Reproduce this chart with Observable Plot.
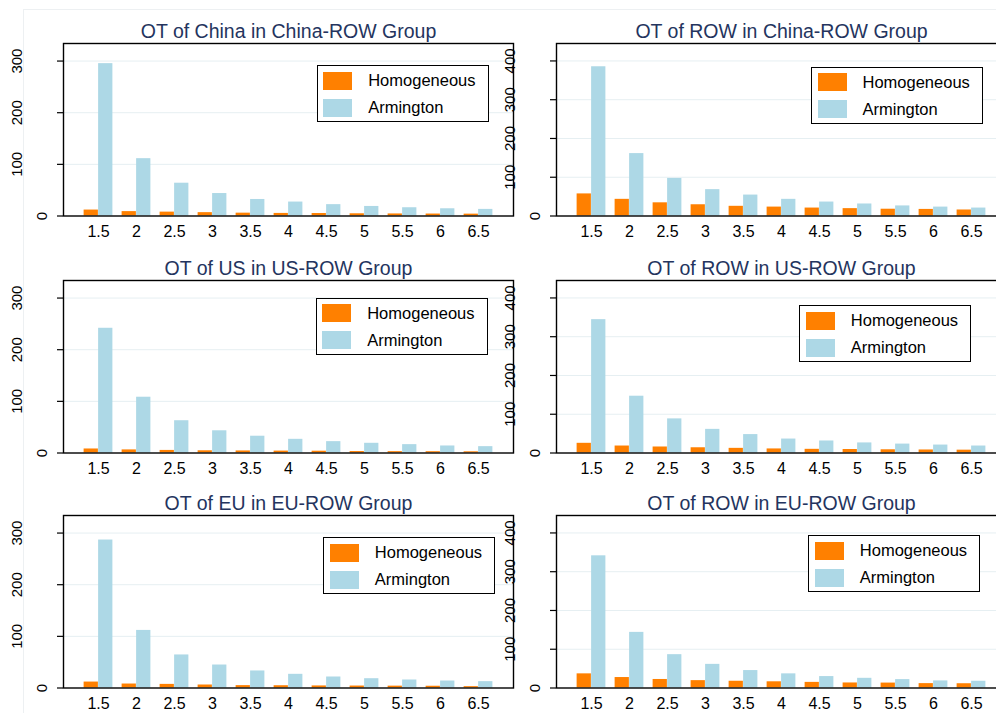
<!DOCTYPE html>
<html>
<head>
<meta charset="utf-8">
<script src="https://cdn.jsdelivr.net/npm/d3@7"></script>
<script src="https://cdn.jsdelivr.net/npm/@observablehq/plot@0.6"></script>
<style>
html, body { margin: 0; padding: 0; background: #fff; }
#chart { position: relative; width: 996px; height: 713px; overflow: hidden; background: #fff; font-family: "Liberation Sans", Arial, sans-serif; }
.panel { position: absolute; }
.legend { position: absolute; box-sizing: border-box; border: 1.3px solid #000; background: #fff; width: 172px; height: 57px; padding: 5.5px 0 0 5.5px; }
.lrow { display: flex; align-items: center; height: 18px; margin-bottom: 9px; }
.sw { width: 29px; height: 18px; margin-right: 16px; flex: none; }
.lt { font-size: 16.5px; color: #000; white-space: nowrap; }
.outline { position: absolute; left: 23px; top: 9px; width: 2000px; height: 2000px; border-left: 1px solid #edf0f2; border-top: 1px solid #edf0f2; }
</style>
</head>
<body>
<div id="chart"><div class="outline"></div></div>
<script>
// ---------- data ----------
const categories = ["1.5", "2", "2.5", "3", "3.5", "4", "4.5", "5", "5.5", "6", "6.5"];
const seriesNames = ["Homogeneous", "Armington"];
const titles = [
  "OT of China in China-ROW Group",
  "OT of ROW in China-ROW Group",
  "OT of US in US-ROW Group",
  "OT of ROW in US-ROW Group",
  "OT of EU in EU-ROW Group",
  "OT of ROW in EU-ROW Group"
];
const leftTicks = [0, 100, 200, 300];
const rightTicks = [0, 100, 200, 300, 400];

const homChina = [11.5, 8.5, 7.5, 6.5, 5.5, 5, 4.8, 4.3, 4, 3.8, 3.6];
const armChina = [295, 111, 63.5, 43.5, 32, 27, 22, 18.5, 16, 14, 12.8];
const homRowChina = [57, 43, 34, 29, 25, 23, 20.5, 19, 17.5, 17, 15.5];
const armRowChina = [385, 161, 97, 68, 54, 43, 36, 31, 26, 23, 20.5];
const homUS = [7.8, 6, 5, 4.3, 4, 3.7, 3.5, 2.8, 2.6, 2.5, 2.3];
const armUS = [241.5, 108, 62.5, 43, 32.5, 26.5, 22, 18.8, 16.2, 13.6, 12.3];
const homRowUS = [25, 18, 15.5, 13.5, 12, 10.5, 9.5, 9, 8.3, 7.8, 7.3];
const armRowUS = [344, 146.5, 88, 61, 47.5, 36, 31, 26, 23, 20.5, 18];
const homEU = [11.5, 7.7, 7, 5.8, 4.6, 4.4, 4, 3.8, 3.6, 3.4, 2.6];
const armEU = [286.5, 111.5, 64, 44.5, 33, 26.5, 21.3, 18, 15.5, 13.5, 12.3];
const homRowEU = [36.5, 27, 22, 19, 17.4, 16, 14.5, 13, 12.7, 11.3, 11];
const armRowEU = [341, 143.5, 86, 61, 45, 36.5, 29.5, 25, 21.7, 18.3, 17.4];

// ---------- styles / layout ----------
const FONT = '"Liberation Sans", Arial, sans-serif';
const ORANGE = "#ff8000";
const BLUE = "#add8e6";
const GRID = "#e6eff2";
const TITLE_C = "#24345e";
const FRAME_W = 450, FRAME_H = 172.5;
const MT = 43, MB = 24, MR = 8;
const PAD_OUTER = 0.386;
const BAR_W = 14.5;

const panels = [
  {title: titles[0], hom: homChina, arm: armChina, ticks: leftTicks, ymax: 334, left: 0, ml: 63, frameTop: 43.3, legend: [316.7, 65]},
  {title: titles[1], hom: homRowChina, arm: armRowChina, ticks: rightTicks, ymax: 445, left: 496, ml: 60, frameTop: 43.3, legend: [811, 66.7]},
  {title: titles[2], hom: homUS, arm: armUS, ticks: leftTicks, ymax: 334, left: 0, ml: 63, frameTop: 279.5, legend: [315.7, 297.7]},
  {title: titles[3], hom: homRowUS, arm: armRowUS, ticks: rightTicks, ymax: 445, left: 496, ml: 60, frameTop: 279.5, legend: [799.3, 305]},
  {title: titles[4], hom: homEU, arm: armEU, ticks: leftTicks, ymax: 334, left: 0, ml: 63, frameTop: 514.5, legend: [323.3, 537.3]},
  {title: titles[5], hom: homRowEU, arm: armRowEU, ticks: rightTicks, ymax: 445, left: 496, ml: 60, frameTop: 514.5, legend: [808.3, 535]}
];

const chart = document.getElementById("chart");
const step = FRAME_W / (categories.length + 2 * PAD_OUTER);
const half = step / 2;

panels.forEach(p => {
  const rows = categories.flatMap((c, i) => [
    {cat: c, series: seriesNames[0], value: p.hom[i]},
    {cat: c, series: seriesNames[1], value: p.arm[i]}
  ]);
  const svg = Plot.plot({
    width: p.ml + FRAME_W + MR,
    height: MT + FRAME_H + MB,
    marginLeft: p.ml, marginRight: MR, marginTop: MT, marginBottom: MB,
    style: {background: "transparent", overflow: "visible", fontFamily: FONT, color: "#000"},
    x: {type: "band", domain: categories, paddingInner: 0, paddingOuter: PAD_OUTER, axis: null},
    y: {domain: [0, p.ymax], axis: null},
    marks: [
      Plot.ruleY(p.ticks.filter(t => t > 0), {stroke: GRID, strokeWidth: 1}),
      Plot.barY(rows.filter(d => d.series === seriesNames[0]), {x: "cat", y: "value", fill: ORANGE, insetLeft: half - BAR_W, insetRight: half}),
      Plot.barY(rows.filter(d => d.series === seriesNames[1]), {x: "cat", y: "value", fill: BLUE, insetLeft: half, insetRight: half - BAR_W}),
      Plot.frame({stroke: "#000", strokeWidth: 1.4}),
      Plot.axisY(p.ticks, {tickSize: 6, tickFormat: () => "", label: null, stroke: "#000", strokeWidth: 1.2}),
      Plot.text(p.ticks.filter(t => t > 0), {y: d => d, text: d => String(d), frameAnchor: "left", textAnchor: "middle", lineAnchor: "middle", dx: -46, rotate: -90, fontSize: 15, fill: "#000"}),
      Plot.text(p.ticks.filter(t => t === 0), {y: d => d, text: d => String(d), frameAnchor: "left", textAnchor: "middle", lineAnchor: "middle", dx: -21, rotate: -90, fontSize: 15, fill: "#000"}),
      Plot.axisX({tickSize: 0, tickPadding: 10, fontSize: 16, label: null, fill: "#000"}),
      Plot.text([p.title], {frameAnchor: "top", textAnchor: "middle", lineAnchor: "middle", dy: -12, fontSize: 19.5, fill: TITLE_C})
    ]
  });
  svg.classList.add("panel");
  svg.style.left = p.left + "px";
  svg.style.top = (p.frameTop - MT) + "px";
  chart.appendChild(svg);

  const lg = document.createElement("div");
  lg.className = "legend";
  lg.style.left = p.legend[0] + "px";
  lg.style.top = p.legend[1] + "px";
  [[seriesNames[0], ORANGE], [seriesNames[1], BLUE]].forEach(([name, col]) => {
    const r = document.createElement("div");
    r.className = "lrow";
    const s = document.createElement("span");
    s.className = "sw"; s.style.background = col;
    const t = document.createElement("span");
    t.className = "lt"; t.textContent = name;
    r.appendChild(s); r.appendChild(t);
    lg.appendChild(r);
  });
  chart.appendChild(lg);
});
</script>
</body>
</html>
